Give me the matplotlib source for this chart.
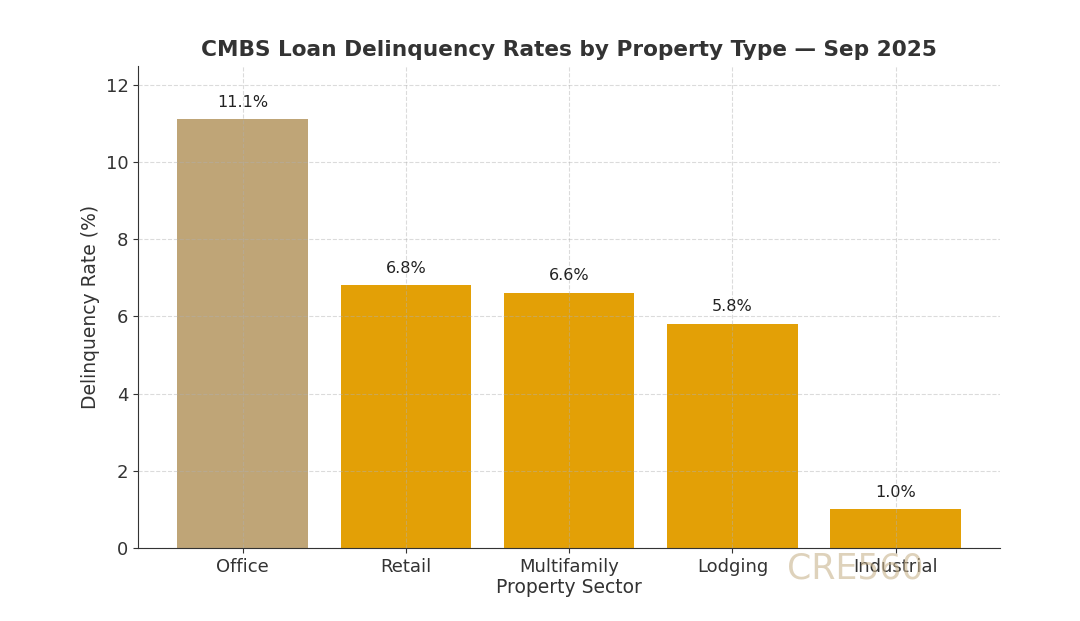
import matplotlib as mpl
mpl.use('Agg')
import matplotlib.pyplot as plt

# data
sectors = ["Office", "Retail", "Multifamily", "Lodging", "Industrial"]
rates = [11.1, 6.8, 6.6, 5.8, 1.0]
labels = ["11.1%", "6.8%", "6.6%", "5.8%", "1.0%"]
colors = ["#BFA577", "#E3A006", "#E3A006", "#E3A006", "#E3A006"]

plt.rcParams.update({'font.family': 'DejaVu Sans', 'font.size': 13})

fig = plt.figure(figsize=(10.8, 6.21), dpi=100)
ax = fig.add_axes([0.128, 0.1176, 0.798, 0.776])

bars = ax.bar(sectors, rates, color=colors, width=0.8, zorder=1)
for b, lab in zip(bars, labels):
    ax.text(b.get_x() + b.get_width() / 2, b.get_height() + 0.25, lab,
            ha='center', va='bottom', fontsize=11.5, color='#222222')

ax.set_ylim(0, 12.48)
ax.grid(True, linestyle='--', color='#b0b0b0', alpha=0.45, linewidth=0.8, zorder=2)
ax.set_axisbelow(False)
for s in ['top', 'right']:
    ax.spines[s].set_visible(False)
for s in ['left', 'bottom']:
    ax.spines[s].set_color('#333333')

ax.tick_params(colors='#333333', labelsize=13)
ax.set_yticks([0, 2, 4, 6, 8, 10, 12])
ax.set_xlabel("Property Sector", fontsize=13.5, color='#333333', labelpad=2)
ax.set_ylabel("Delinquency Rate (%)", fontsize=13.5, color='#333333', labelpad=4)
ax.set_title("CMBS Loan Delinquency Rates by Property Type \u2014 Sep 2025",
             fontsize=15.6, fontweight='bold', color='#333333', pad=7)

fig.text(0.792, 0.085, "CRE560", fontsize=25, color='#C9B48E', alpha=0.6,
         ha='center', va='center')

fig.savefig("out.png", dpi=100)
